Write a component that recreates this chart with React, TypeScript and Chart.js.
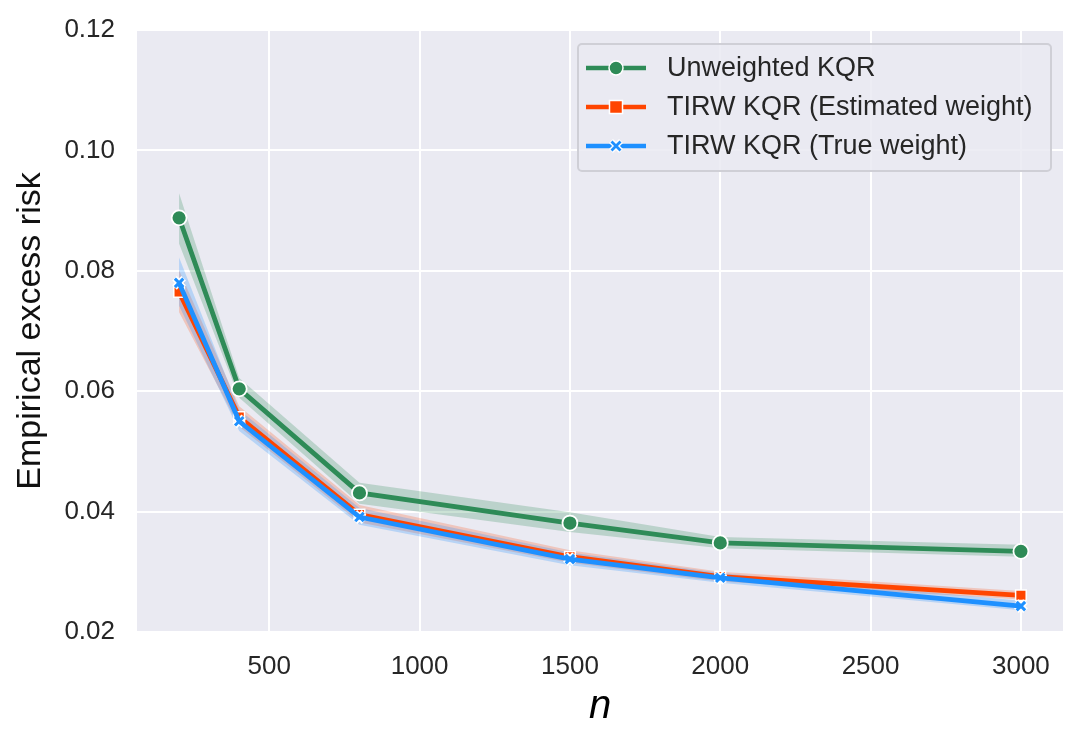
import React, { useEffect, useRef } from "react";
import { Chart, registerables } from "chart.js";

Chart.register(...registerables);

// sample sizes
const ns = [200, 400, 800, 1500, 2000, 3000];

// Unweighted KQR
const unweighted = [0.0888, 0.0604, 0.0431, 0.0381, 0.0348, 0.0334];
const unweightedHi = [0.0929, 0.0622, 0.0448, 0.0399, 0.0358, 0.0345];
const unweightedLo = [0.0845, 0.0589, 0.0413, 0.0366, 0.0339, 0.0325];

// TIRW KQR (Estimated weight)
const estimated = [0.0765, 0.0557, 0.0395, 0.0325, 0.0292, 0.0261];
const estimatedHi = [0.0801, 0.0575, 0.0411, 0.0336, 0.0300, 0.0268];
const estimatedLo = [0.0731, 0.0541, 0.0382, 0.0315, 0.0284, 0.0254];

// TIRW KQR (True weight)
const trueW = [0.078, 0.055, 0.0391, 0.0321, 0.029, 0.0243];
const trueHi = [0.0822, 0.0569, 0.0406, 0.0332, 0.0298, 0.0252];
const trueLo = [0.0742, 0.0534, 0.0378, 0.0311, 0.0282, 0.0236];

const xTicks = [500, 1000, 1500, 2000, 2500, 3000];

const GREEN = "#2e8b57";
const ORANGE = "#ff4500";
const BLUE = "#1e90ff";
const FONT = "'Liberation Sans', Arial, sans-serif";

function pts(vals: number[]) {
  return vals.map((v, i) => ({ x: ns[i], y: v }));
}

function band(hi: number[], lo: number[], color: string, order: number) {
  return [
    {
      data: pts(hi),
      borderWidth: 0,
      pointRadius: 0,
      backgroundColor: color,
      fill: false,
      order
    },
    {
      data: pts(lo),
      borderWidth: 0,
      pointRadius: 0,
      backgroundColor: color,
      fill: "-1",
      order
    }
  ];
}

const bgPlugin = {
  id: "bg",
  beforeDraw(chart: any) {
    const { ctx, chartArea } = chart;
    ctx.save();
    ctx.fillStyle = "#eaeaf2";
    ctx.fillRect(chartArea.left, chartArea.top, chartArea.width, chartArea.height);
    ctx.restore();
  }
};

function LegendRow({ color, kind, label }: { color: string; kind: string; label: string }) {
  return (
    <div style={{ display: "flex", alignItems: "center", height: 39 }}>
      <svg width={62} height={20} style={{ marginRight: 19 }}>
        <line x1={0} y1={10} x2={60} y2={10} stroke={color} strokeWidth={4.5} />
        {kind === "circle" && <circle cx={30} cy={10} r={7} fill={color} stroke="#fff" strokeWidth={1.5} />}
        {kind === "square" && <rect x={23.5} y={3.5} width={13} height={13} fill={color} stroke="#fff" strokeWidth={1.5} />}
        {kind === "cross" && (
          <g>
            <path d="M25 5 L35 15 M35 5 L25 15" stroke="#fff" strokeWidth={5.5} />
            <path d="M25.5 5.5 L34.5 14.5 M34.5 5.5 L25.5 14.5" stroke={color} strokeWidth={2.8} />
          </g>
        )}
      </svg>
      <span>{label}</span>
    </div>
  );
}

export default function App() {
  const canvasRef = useRef<HTMLCanvasElement | null>(null);

  useEffect(() => {
    document.body.style.margin = "0";
    if (!canvasRef.current) return;
    const chart = new Chart(canvasRef.current, {
      type: "line",
      data: {
        datasets: [
          {
            data: pts(trueW),
            borderColor: BLUE,
            backgroundColor: BLUE,
            borderWidth: 4.8,
            pointStyle: "crossRot",
            pointRadius: 6,
            pointBorderWidth: 3,
            pointBorderColor: BLUE,
            order: 1
          },
          {
            data: pts(trueW),
            showLine: false,
            pointStyle: "crossRot",
            pointRadius: 6.5,
            pointBorderWidth: 6.5,
            pointBorderColor: "#ffffff",
            order: 2
          },
          {
            data: pts(estimated),
            borderColor: ORANGE,
            backgroundColor: ORANGE,
            borderWidth: 4.8,
            pointStyle: "rect",
            pointRadius: 7.5,
            pointBorderWidth: 1.5,
            pointBorderColor: "#ffffff",
            order: 3
          },
          {
            data: pts(unweighted),
            borderColor: GREEN,
            backgroundColor: GREEN,
            borderWidth: 4.8,
            pointStyle: "circle",
            pointRadius: 7.5,
            pointBorderWidth: 1.8,
            pointBorderColor: "#ffffff",
            order: 4
          },
          ...band(trueHi, trueLo, "rgba(30,144,255,0.25)", 5),
          ...band(estimatedHi, estimatedLo, "rgba(255,69,0,0.22)", 6),
          ...band(unweightedHi, unweightedLo, "rgba(46,139,87,0.25)", 7)
        ] as any
      },
      options: {
        animation: false,
        responsive: false,
        layout: { padding: { top: 30, right: 22, left: 0, bottom: 0 } },
        plugins: {
          legend: { display: false },
          tooltip: { enabled: false }
        },
        elements: { line: { tension: 0 } },
        scales: {
          x: {
            type: "linear",
            min: 60,
            max: 3140,
            afterBuildTicks: (s: any) => {
              s.ticks = xTicks.map((v) => ({ value: v }));
            },
            afterFit: (s: any) => {
              s.height = 116;
              s.paddingLeft = 0;
              s.paddingRight = 0;
            },
            grid: { color: "#ffffff", lineWidth: 2, drawTicks: false },
            border: { display: false },
            ticks: {
              padding: 19,
              color: "#262626",
              font: { family: FONT, size: 26 },
              maxRotation: 0,
              callback: (v: any) => String(v)
            },
            title: {
              display: true,
              text: "n",
              color: "#000000",
              font: { family: FONT, size: 40, style: "italic" },
              padding: { top: 0, bottom: 17 }
            }
          },
          y: {
            min: 0.02,
            max: 0.12,
            afterFit: (s: any) => {
              s.width = 137;
              s.paddingTop = 0;
              s.paddingBottom = 0;
            },
            grid: { color: "#ffffff", lineWidth: 2, drawTicks: false },
            border: { display: false },
            ticks: {
              stepSize: 0.02,
              padding: 22,
              color: "#262626",
              font: { family: FONT, size: 26 },
              callback: (v: any) => Number(v).toFixed(2)
            },
            title: {
              display: true,
              text: "Empirical excess risk",
              color: "#111111",
              font: { family: FONT, size: 34 },
              padding: { top: 10, bottom: 0 }
            }
          }
        }
      },
      plugins: [bgPlugin]
    });
    return () => chart.destroy();
  }, []);

  return (
    <div style={{ position: "relative", width: 1085, height: 748, background: "#fff" }}>
      <canvas ref={canvasRef} width={1085} height={748} />
      <div
        style={{
          position: "absolute",
          left: 577,
          top: 43,
          width: 475,
          height: 129,
          boxSizing: "border-box",
          border: "2px solid #cfcfd6",
          borderRadius: 5,
          background: "rgba(234,234,242,0.85)",
          padding: "3px 0 0 7px",
          fontFamily: FONT,
          fontSize: 27,
          color: "#262626"
        }}
      >
        <LegendRow color={GREEN} kind="circle" label="Unweighted KQR" />
        <LegendRow color={ORANGE} kind="square" label="TIRW KQR (Estimated weight)" />
        <LegendRow color={BLUE} kind="cross" label="TIRW KQR (True weight)" />
      </div>
    </div>
  );
}
